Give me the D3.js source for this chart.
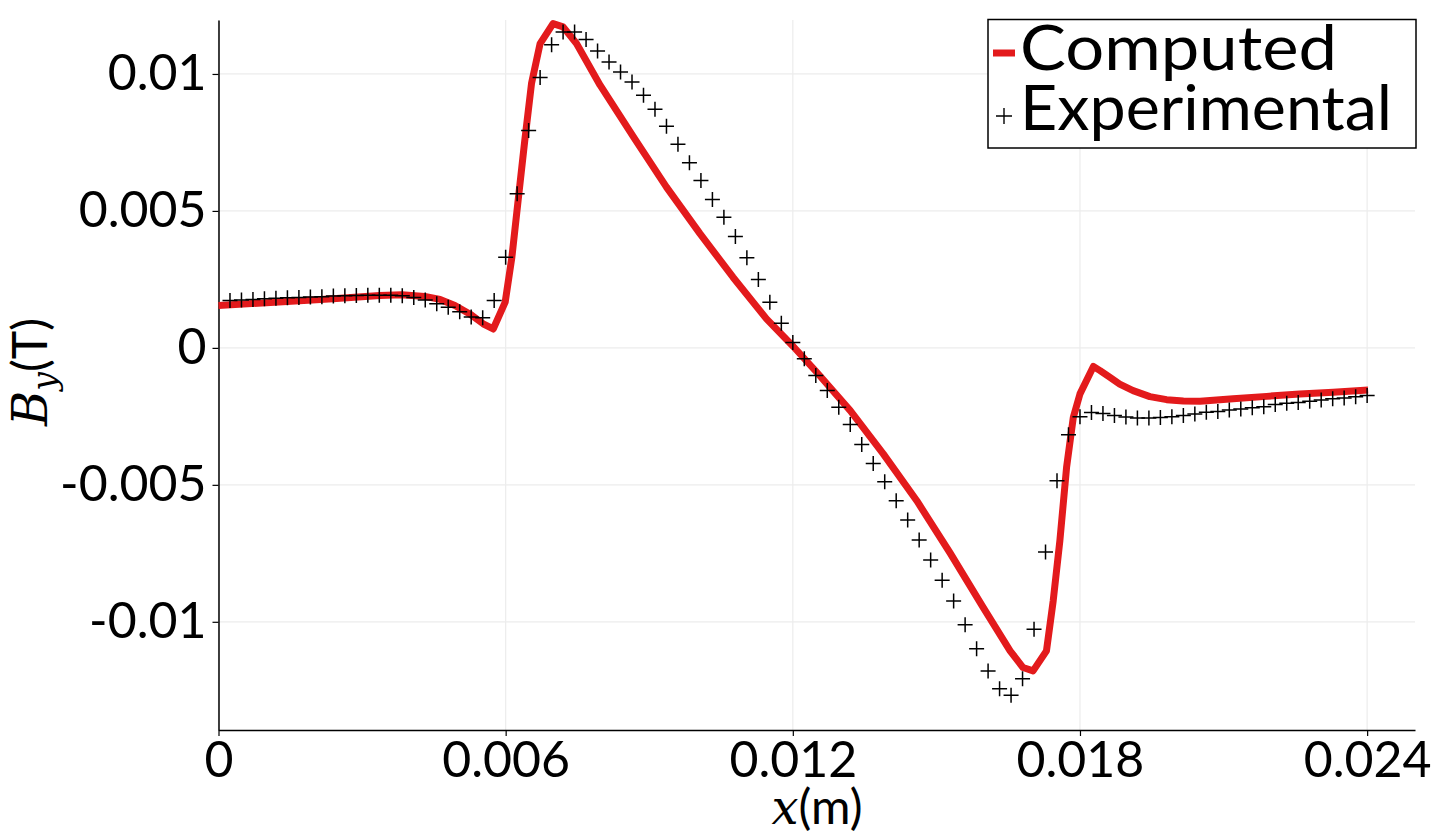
<!DOCTYPE html>
<html>
<head>
  <meta charset="UTF-8">
  <title>B_y profile</title>
  <style>
    body { margin: 0; background: #fff; }
    svg { display: block; }
    .tick text { font-family: Lato, "Open Sans", sans-serif; }
  </style>
</head>
<body>
<svg></svg>
<script src="https://d3js.org/d3.v7.min.js"></script>
<script>

// computed field
const compX = [0, 0.00239, 0.00337, 0.00383, 0.00431, 0.00463, 0.00494, 0.00525, 0.00553, 0.00574,
  0.00599, 0.00613, 0.00626, 0.0064, 0.00654, 0.00672, 0.00699, 0.0072, 0.00748, 0.00797,
  0.00867, 0.00936, 0.01006, 0.01075, 0.01145, 0.01201, 0.0125, 0.0132, 0.01389, 0.01459,
  0.01528, 0.01598, 0.01654, 0.01681, 0.01702, 0.0173, 0.01744, 0.01758, 0.01772, 0.01786,
  0.018, 0.01828, 0.01842, 0.01862, 0.01883, 0.01911, 0.01946, 0.01981, 0.02016, 0.02051,
  0.0212, 0.0219, 0.02259, 0.02329, 0.02402];
const compY = [0.00155, 0.00179, 0.00191, 0.00194, 0.00188, 0.00177, 0.00155, 0.00124, 0.00088, 0.00069,
  0.00167, 0.00331, 0.00538, 0.00758, 0.00965, 0.01111, 0.01184, 0.01172, 0.01111, 0.0096,
  0.0077, 0.00587, 0.00417, 0.00258, 0.00106, 0.00005, -0.00089, -0.00229, -0.00387, -0.00558,
  -0.00747, -0.00948, -0.01106, -0.01167, -0.01179, -0.01106, -0.00924, -0.00704, -0.00436, -0.00254,
  -0.00168, -0.00068, -0.00083, -0.00107, -0.00132, -0.00156, -0.00178, -0.00189, -0.00194, -0.00195,
  -0.00186, -0.00177, -0.00168, -0.00162, -0.00154];

// measured points
const expX = [0.00024, 0.00048, 0.00072, 0.00096, 0.0012, 0.00144, 0.00168, 0.00192, 0.00216, 0.0024,
  0.00264, 0.00288, 0.00312, 0.00336, 0.0036, 0.00384, 0.00408, 0.00432, 0.00456, 0.0048,
  0.00504, 0.00528, 0.00552, 0.00576, 0.006, 0.00624, 0.00648, 0.00672, 0.00696, 0.0072,
  0.00744, 0.00768, 0.00792, 0.00816, 0.0084, 0.00864, 0.00888, 0.00912, 0.00936, 0.0096,
  0.00984, 0.01008, 0.01032, 0.01056, 0.0108, 0.01104, 0.01128, 0.01152, 0.01176, 0.012,
  0.01224, 0.01248, 0.01272, 0.01296, 0.0132, 0.01344, 0.01368, 0.01392, 0.01416, 0.0144,
  0.01464, 0.01488, 0.01512, 0.01536, 0.0156, 0.01584, 0.01608, 0.01632, 0.01656, 0.0168,
  0.01704, 0.01728, 0.01752, 0.01776, 0.018, 0.01824, 0.01848, 0.01872, 0.01896, 0.0192,
  0.01944, 0.01968, 0.01992, 0.02016, 0.0204, 0.02064, 0.02088, 0.02112, 0.02136, 0.0216,
  0.02184, 0.02208, 0.02232, 0.02256, 0.0228, 0.02304, 0.02328, 0.02352, 0.02376, 0.024];
const expY = [0.00173, 0.00175, 0.00177, 0.00179, 0.00181, 0.00183, 0.00184, 0.00186, 0.00187, 0.00189,
  0.0019, 0.00191, 0.00192, 0.00192, 0.00192, 0.0019, 0.00184, 0.00175, 0.00161, 0.00148,
  0.00132, 0.00113, 0.0011, 0.00173, 0.00331, 0.00563, 0.00794, 0.00987, 0.01107, 0.01153,
  0.01153, 0.01126, 0.01084, 0.01044, 0.01007, 0.00971, 0.00922, 0.00871, 0.00809, 0.00743,
  0.00676, 0.00611, 0.00542, 0.00477, 0.00407, 0.00329, 0.0025, 0.00167, 0.0009, 0.0002,
  -0.0004, -0.00101, -0.00156, -0.00217, -0.0028, -0.00353, -0.00422, -0.00489, -0.00558, -0.00628,
  -0.00701, -0.00774, -0.00848, -0.00924, -0.01011, -0.01098, -0.0118, -0.01244, -0.01268, -0.01208,
  -0.01027, -0.00745, -0.00485, -0.00317, -0.00251, -0.00236, -0.0024, -0.00247, -0.00252, -0.00256,
  -0.00256, -0.00254, -0.00251, -0.00247, -0.00241, -0.00235, -0.00232, -0.00227, -0.00223, -0.00219,
  -0.00215, -0.00207, -0.00202, -0.00199, -0.00195, -0.0019, -0.00186, -0.00183, -0.00178, -0.00174];

const xTicks = [0, 0.006, 0.012, 0.018, 0.024];
const xTickLabels = ["0", "0.006", "0.012", "0.018", "0.024"];
const yTicks = [-0.01, -0.005, 0, 0.005, 0.01];
const yTickLabels = ["-0.01", "-0.005", "0", "0.005", "0.01"];
const seriesNames = ["Computed", "Experimental"];

let width = 1436, height = 836;
let mLeft = 218.5, mRight = 1415, mTop = 20, mBottom = 730;

let svg = d3.select("svg").attr("width", width).attr("height", height);

let x = d3.scaleLinear().domain([0, 0.025]).range([mLeft, mRight]);
let y = d3.scaleLinear().domain([-0.01395, 0.01197]).range([mBottom, mTop]);

// grid
svg.append("g").selectAll("line").data(xTicks).enter().append("line")
    .attr("x1", d => x(d)).attr("x2", d => x(d))
    .attr("y1", mTop).attr("y2", mBottom)
    .attr("stroke", "#ececec").attr("stroke-width", 1.2);
svg.append("g").selectAll("line").data(yTicks).enter().append("line")
    .attr("x1", mLeft).attr("x2", mRight)
    .attr("y1", d => y(d)).attr("y2", d => y(d))
    .attr("stroke", "#ececec").attr("stroke-width", 1.2);

// axes
let xAxis = svg.append("g")
    .attr("transform", "translate(0," + mBottom + ")")
    .call(d3.axisBottom(x).tickValues(xTicks).tickFormat((d, i) => xTickLabels[i]).tickSize(6).tickSizeOuter(0));
let yAxis = svg.append("g")
    .attr("transform", "translate(" + mLeft + ",0)")
    .call(d3.axisLeft(y).tickValues(yTicks).tickFormat((d, i) => yTickLabels[i]).tickSize(6).tickSizeOuter(0));

[xAxis, yAxis].forEach(a => {
    a.select(".domain").attr("stroke", "#000").attr("stroke-width", 1.5);
    a.selectAll(".tick line").attr("stroke", "#000").attr("stroke-width", 1.2);
    a.selectAll(".tick text").attr("font-size", 50).attr("fill", "#000");
});
xAxis.selectAll(".tick text").attr("dy", "0.72em").attr("y", 11);
yAxis.selectAll(".tick text").attr("x", -12);

// computed line
let line = d3.line().x(d => x(d[0])).y(d => y(d[1]));
svg.append("path")
    .datum(compX.map((v, i) => [v, compY[i]]))
    .attr("d", line)
    .attr("fill", "none")
    .attr("stroke", "#e31a1c")
    .attr("stroke-width", 7)
    .attr("stroke-linejoin", "round");

// experimental plus markers
let s = 7.5;
svg.append("g").selectAll("path").data(expX.map((v, i) => [v, expY[i]])).enter().append("path")
    .attr("d", d => "M" + (x(d[0]) - s) + "," + y(d[1]) + "H" + (x(d[0]) + s) +
                    "M" + x(d[0]) + "," + (y(d[1]) - s) + "V" + (y(d[1]) + s))
    .attr("stroke", "#000")
    .attr("stroke-width", 1.5)
    .attr("fill", "none");

// axis titles
svg.append("text")
    .attr("x", 817).attr("y", 824)
    .attr("text-anchor", "middle")
    .attr("font-size", 48)
    .html('<tspan font-family="DejaVu Serif, serif" font-style="italic">x</tspan><tspan font-family="Lato, sans-serif">(m)</tspan>');

svg.append("text")
    .attr("transform", "translate(47,372) rotate(-90)")
    .attr("text-anchor", "middle")
    .attr("font-size", 48)
    .html('<tspan font-family="DejaVu Serif, serif" font-style="italic">B</tspan>' +
          '<tspan font-family="DejaVu Serif, serif" font-style="italic" font-size="33" dy="9">y</tspan>' +
          '<tspan font-family="Lato, sans-serif" dy="-9">(T)</tspan>');

// legend
let lg = svg.append("g");
lg.append("rect")
    .attr("x", 988).attr("y", 19.5).attr("width", 428).attr("height", 128.5)
    .attr("fill", "#fff").attr("stroke", "#000").attr("stroke-width", 1.5);
lg.append("line")
    .attr("x1", 993).attr("x2", 1015).attr("y1", 53).attr("y2", 53)
    .attr("stroke", "#e31a1c").attr("stroke-width", 7);
lg.append("path")
    .attr("d", "M996,116H1012M1004,108V124")
    .attr("stroke", "#000").attr("stroke-width", 1.4);
let legWidths = [317, 372];
lg.selectAll("text.leg").data(seriesNames).enter().append("text")
    .attr("class", "leg")
    .attr("x", 1020)
    .attr("y", (d, i) => 70 + i * 60)
    .attr("font-family", "Lato, sans-serif")
    .attr("font-size", 61)
    .attr("textLength", (d, i) => legWidths[i])
    .attr("lengthAdjust", "spacingAndGlyphs")
    .text(d => d);

</script>
</body>
</html>
